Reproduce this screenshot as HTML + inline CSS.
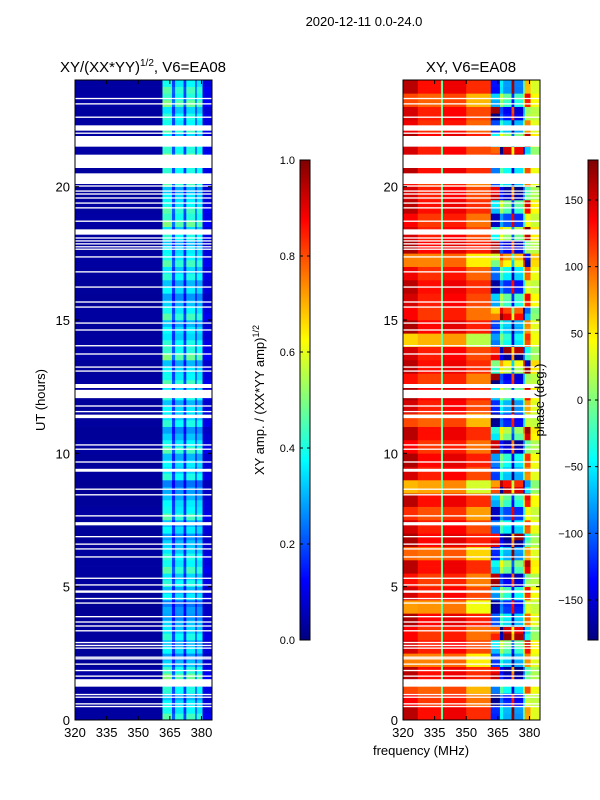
<!DOCTYPE html>
<html><head><meta charset="utf-8"><style>
html,body{margin:0;padding:0;background:#fff}
svg{display:block;font-family:"Liberation Sans",sans-serif}
</style></head><body>
<svg id="fig" width="600" height="800" viewBox="0 0 600 800" xmlns="http://www.w3.org/2000/svg">
<rect width="600" height="800" fill="#fff"/>
<text x="364" y="26" font-size="13" text-anchor="middle">2020-12-11 0.0-24.0</text>
<text x="143" y="72" font-size="15" text-anchor="middle">XY/(XX*YY)<tspan font-size="10" dy="-6">1/2</tspan><tspan dy="6">, V6=EA08</tspan></text>
<text x="471" y="72" font-size="15" text-anchor="middle">XY, V6=EA08</text>
<g id="left"></g>
<g id="right"></g>
<g id="axes"></g>
<text x="45" y="400" font-size="13" text-anchor="middle" transform="rotate(-90 45 400)">UT (hours)</text>
<text x="421" y="755" font-size="13" text-anchor="middle">frequency (MHz)</text>
<text x="264" y="400" font-size="13" text-anchor="middle" transform="rotate(-90 264 400)">XY amp. / (XX*YY amp)<tspan font-size="9" dy="-5">1/2</tspan></text>
<text x="544" y="400" font-size="13" text-anchor="middle" transform="rotate(-90 544 400)">phase (deg.)</text>
</svg>
<script>
// ---- data ----
const freqEdges = [320,361.5,366,367.5,371.5,372.8,377,377.8,380.5,385];
const ampBand = [0.03,0.42,0.2,0.38,0.18,0.4,0.22,0.38,0.1];
const ampRow = [1.1,0.9,1.0,1.2,0.8,0.9,1.0,0.8,0.7,0.9,1.0,1.1,1.0,0.8,0.9,1.1,0.9,0.7,1.0,0.9,1.1,0.8,1.0,0.9,1.0,1.1,0.9,1.2,1.0,0.9,1.1,0.8,0.9,1.0,1.1,0.9,1.0,1.2,1.1,0.9,1.1,1.0,1.2,1.0,1.1,1.0,1.2,1.1];
const phaseBand = [125,-140,-60,-90,160,-100,-20,60,30];
const lowBands = [[320,327,150],[327,338,125],[338,339,-10],[339,350,135],[350,361.5,110]];
const phaseRow = [20,-40,60,-80,30,90,-120,40,-30,70,-60,100,20,-90,50,-20,80,-140,30,60,-70,110,-40,20,90,-50,140,-100,60,30,-160,80,-30,50,170,-60,120,-20,90,-80,40,60,-120,100,30,-50,80,10];
const lowPhaseRow = [10,-15,-40,10,-60,0,-15,15,-70,0,-20,10,-50,15,0,-30,10,-80,0,15,-15,10,-40,0,15,-20,10,0,-90,15,-15,0,10,-10,-60,15,0,-15,10,0,-20,10,0,15,-10,0,-40,10];
const gaps = [[0.48,0.53],[0.58,0.63],[0.83,0.88],[0.93,0.98],[1.25,1.53],[1.62,1.67],[1.83,1.88],[2.07,2.12],[2.27,2.32],[2.33,2.38],[2.67,2.72],[2.77,2.82],[2.88,2.93],[3.32,3.37],[3.5,3.55],[3.65,3.7],[3.85,3.9],[4.36,4.41],[4.53,4.58],[4.77,4.86],[5.04,5.09],[5.29,5.34],[6.09,6.14],[6.39,6.44],[6.57,6.62],[6.85,6.9],[7.3,7.42],[7.63,7.68],[8.42,8.47],[8.63,8.68],[9.31,9.42],[9.65,9.7],[10.13,10.18],[10.29,10.34],[11.32,11.45],[11.54,11.59],[11.75,11.8],[12.07,12.38],[12.45,12.6],[13.06,13.11],[13.21,13.26],[13.7,13.75],[14.01,14.06],[14.6,14.65],[14.86,14.91],[15.46,15.51],[15.65,15.7],[16.21,16.26],[16.78,16.83],[17.34,17.39],[17.63,17.68],[17.72,17.77],[17.83,17.88],[17.94,17.99],[18.05,18.1],[18.2,18.4],[18.68,18.73],[19.18,19.23],[19.36,19.41],[19.55,19.6],[19.7,19.75],[19.81,19.86],[20.0,20.05],[20.1,20.5],[20.7,21.2],[21.5,21.9],[21.98,22.03],[22.1,22.3],[22.58,22.63],[23.08,23.13],[23.28,23.33]];
const freqTicks = [320,335,350,365,380];
const hourTicks = [0,5,10,15,20];
const ampTicks = [0.0,0.2,0.4,0.6,0.8,1.0];
const phaseTicks = [-150,-100,-50,0,50,100,150];

// ---- scales ----
const NS='http://www.w3.org/2000/svg';
const yT = h => 720 - h*640/24;
const xL = f => 75 + (f-320)*137/65;
const xR = f => 403 + (f-320)*137/65;
const yAmp = v => 640 - v*480;
const yPh = v => 400 - v*240/180;
function jet(v){v=Math.max(0,Math.min(1,v));
 const r=Math.max(0,Math.min(1,Math.min(4*v-1.5,-4*v+4.5)));
 const g=Math.max(0,Math.min(1,Math.min(4*v-0.5,-4*v+3.5)));
 const b=Math.max(0,Math.min(1,Math.min(4*v+0.5,-4*v+2.5)));
 return `rgb(${Math.round(r*255)},${Math.round(g*255)},${Math.round(b*255)})`;}
function mk(tag,attrs,parent){const e=document.createElementNS(NS,tag);for(const k in attrs)e.setAttribute(k,attrs[k]);parent.appendChild(e);return e;}
function wrap(p){while(p>180)p-=360;while(p<-180)p+=360;return p;}

const L=document.getElementById('left'), R=document.getElementById('right'), A=document.getElementById('axes');
const rowH=0.25;
for(let h=0;h<24;h+=rowH){
  const ri=Math.floor(h*2);
  const alt=(Math.round(h/rowH)%2)?0.85:1.0;
  for(let b=0;b<ampBand.length;b++){
    const v=ampBand[b]*ampRow[ri]*(b===0?1:alt);
    const r=mk('rect',{x:xL(freqEdges[b]),y:yT(h+rowH),width:xL(freqEdges[b+1])-xL(freqEdges[b])+0.3,height:640*rowH/24+0.3,fill:jet(v)},L);
    
    
  }
  for(let b=1;b<phaseBand.length;b++){
    const p=wrap(phaseBand[b]+phaseRow[ri]*(alt<1?1:0.8)*(b===8?0.2:1));
    const r=mk('rect',{x:xR(freqEdges[b]),y:yT(h+rowH),width:xR(freqEdges[b+1])-xR(freqEdges[b])+0.3,height:640*rowH/24+0.3,fill:jet((p+180)/360)},R);
    
    
  }
  for(let k=0;k<lowBands.length;k++){
    const lb=lowBands[k];
    const w=(k===0||k===4)?1:0.6;
    const p=wrap(lb[2]+lowPhaseRow[ri]*w*(k===2?0:1));
    const r=mk('rect',{x:xR(lb[0]),y:yT(h+rowH),width:xR(lb[1])-xR(lb[0])+0.3,height:640*rowH/24+0.3,fill:jet((p+180)/360)},R);
    
    
  }
}
for(const g of gaps){
  for(const [grp,x0] of [[L,75],[R,403]]){
    const r=mk('rect',{x:x0,y:yT(g[1]),width:137,height:Math.max(1.2,(g[1]-g[0])*640/24),fill:'#fff'},grp);
    
    
  }
}
for(const [x0,xs,nm] of [[75,xL,'left'],[403,xR,'right']]){
  const f=mk('rect',{x:x0,y:80,width:137,height:640,fill:'none',stroke:'#000','stroke-width':1},A);
  
  
  for(const t of freqTicks){
    mk('line',{x1:xs(t),x2:xs(t),y1:720,y2:716,stroke:'#000'},A);
    mk('line',{x1:xs(t),x2:xs(t),y1:80,y2:84,stroke:'#000'},A);
    const tx=mk('text',{x:xs(t),y:737,'font-size':13,'text-anchor':'middle'},A);
    tx.textContent=t;
    
    
  }
  for(const t of hourTicks){
    mk('line',{x1:x0,x2:x0+4,y1:yT(t),y2:yT(t),stroke:'#000'},A);
    mk('line',{x1:x0+137,x2:x0+133,y1:yT(t),y2:yT(t),stroke:'#000'},A);
    const tx=mk('text',{x:x0-5,y:yT(t)+5,'font-size':13,'text-anchor':'end'},A);
    tx.textContent=t;
    
    
  }
}
function cbar(x,name){
  for(let i=0;i<240;i++){
    const r=mk('rect',{x:x,y:640-(i+1)*2,width:10,height:2.3,fill:jet((i+0.5)/240)},A);
    
    
  }
  const f=mk('rect',{x:x,y:160,width:10,height:480,fill:'none',stroke:'#000'},A);
  
  
}
cbar(300,'amp-colorbar');
cbar(588,'phase-colorbar');
for(const t of ampTicks){
  mk('line',{x1:300,x2:303,y1:yAmp(t),y2:yAmp(t),stroke:'#000'},A);
  mk('line',{x1:310,x2:307,y1:yAmp(t),y2:yAmp(t),stroke:'#000'},A);
  const tx=mk('text',{x:295,y:yAmp(t)+4,'font-size':11,'text-anchor':'end'},A);
  tx.textContent=t.toFixed(1);
  
  
}
for(const t of phaseTicks){
  mk('line',{x1:588,x2:591,y1:yPh(t),y2:yPh(t),stroke:'#000'},A);
  mk('line',{x1:598,x2:595,y1:yPh(t),y2:yPh(t),stroke:'#000'},A);
  const tx=mk('text',{x:583,y:yPh(t)+4,'font-size':11,'text-anchor':'end'},A);
  tx.textContent=(t<0?'\u2212'+(-t):t);
  
  
}
</script>
</body></html>
